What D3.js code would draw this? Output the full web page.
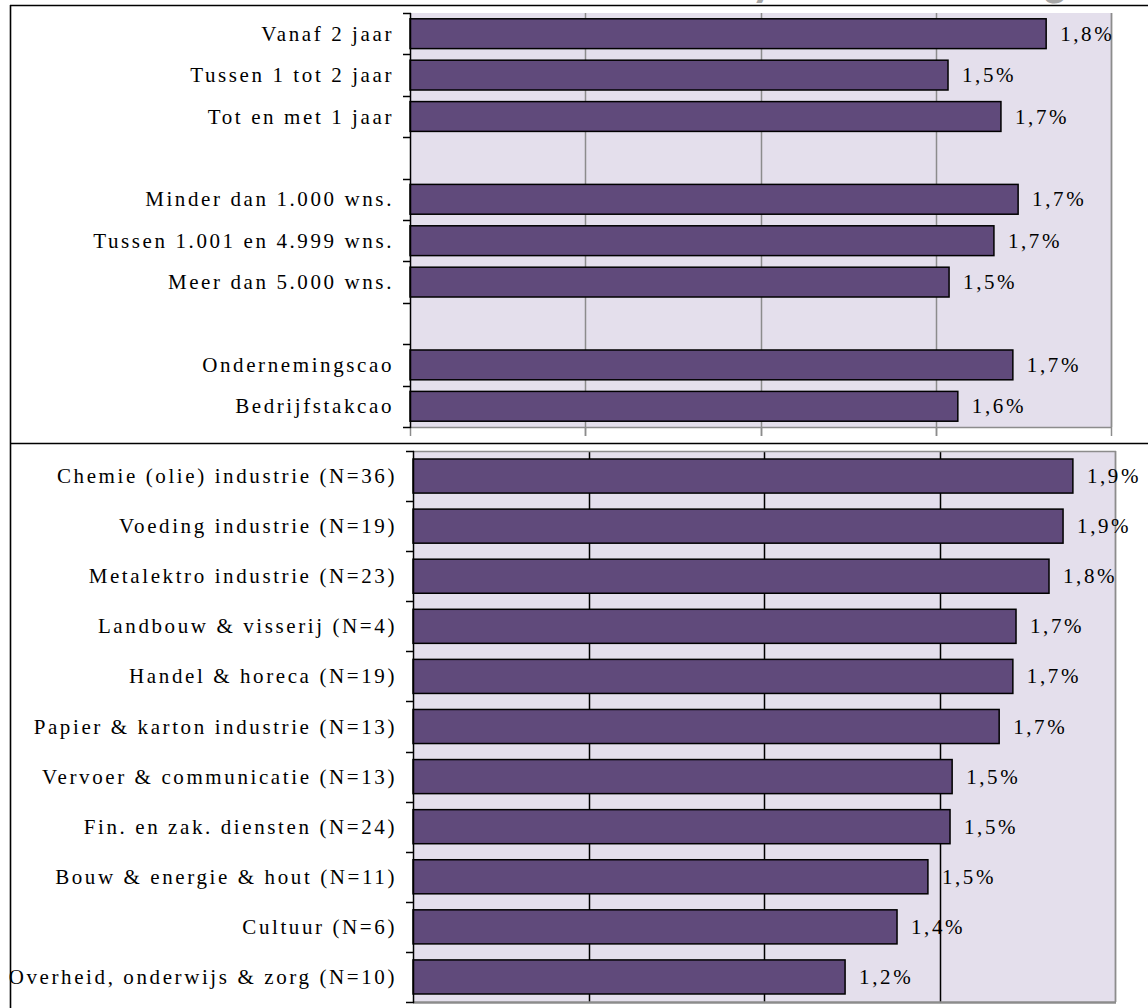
<!DOCTYPE html>
<html>
<head>
<meta charset="utf-8">
<script src="https://cdn.jsdelivr.net/npm/d3@7"></script>
<style>
  html, body { margin: 0; padding: 0; background: #fff; }
  svg { display: block; }
  text { font-family: "Liberation Serif", "Times New Roman", serif; }
</style>
</head>
<body>
<svg id="chart" width="1148" height="1008"></svg>
<script>
// ---------- data ----------
const topCategories = ["Vanaf 2 jaar", "Tussen 1 tot 2 jaar", "Tot en met 1 jaar", "",
  "Minder dan 1.000 wns.", "Tussen 1.001 en 4.999 wns.", "Meer dan 5.000 wns.", " ",
  "Ondernemingscao", "Bedrijfstakcao"];
const topValues = [1.815, 1.535, 1.686, null, 1.735, 1.666, 1.538, null, 1.72, 1.563];
const topLabels = ["1,8%", "1,5%", "1,7%", "", "1,7%", "1,7%", "1,5%", "", "1,7%", "1,6%"];

const bottomCategories = ["Chemie (olie) industrie (N=36)", "Voeding industrie (N=19)",
  "Metalektro industrie (N=23)", "Landbouw & visserij (N=4)", "Handel & horeca (N=19)",
  "Papier & karton industrie (N=13)", "Vervoer & communicatie (N=13)",
  "Fin. en zak. diensten (N=24)", "Bouw & energie & hout (N=11)", "Cultuur (N=6)",
  "Overheid, onderwijs & zorg (N=10)"];
const bottomValues = [1.88, 1.852, 1.812, 1.718, 1.709, 1.67, 1.536, 1.53, 1.467, 1.379, 1.231];
const bottomLabels = ["1,9%", "1,9%", "1,8%", "1,7%", "1,7%", "1,7%", "1,5%", "1,5%", "1,5%", "1,4%", "1,2%"];

const xTicks = [0, 0.5, 1.0, 1.5, 2.0];

// ---------- drawing ----------
const svg = d3.select("#chart");
const BAR = "#604A7B", BG = "#E4DFEC", GRID = "#8C8C8C";
const FS = 21, LS = 2.6;

// cut-off title fragments (descenders of a large grey title above the frame)
const title = svg.append("text").attr("y", -4)
  .style("font-family", "Calibri, Carlito, 'Open Sans', sans-serif")
  .style("font-size", "46px").style("font-weight", "bold").attr("fill", "#A6A6A6");
title.append("tspan").attr("x", 752).text("y");
title.append("tspan").attr("x", 1044).text("g");

// outer frame
svg.append("line").attr("x1", 10).attr("x2", 1148).attr("y1", 5.5).attr("y2", 5.5)
  .attr("stroke", "#000").attr("stroke-width", 1.6);
svg.append("line").attr("x1", 10.5).attr("x2", 10.5).attr("y1", 5).attr("y2", 1008)
  .attr("stroke", "#000").attr("stroke-width", 1.6);
svg.append("line").attr("x1", 10).attr("x2", 1148).attr("y1", 443.5).attr("y2", 443.5)
  .attr("stroke", "#000").attr("stroke-width", 1.6);

function panel(cfg) {
  const g = svg.append("g");
  const x = d3.scaleLinear().domain([0, 2]).range([cfg.x0, cfg.x1]);
  const y = d3.scaleBand().domain(cfg.cats).range([cfg.y0, cfg.y1]).paddingInner(cfg.pad).paddingOuter(cfg.pad / 2);

  // plot background
  g.append("rect").attr("x", cfg.x0).attr("y", cfg.y0)
    .attr("width", cfg.x1 - cfg.x0).attr("height", cfg.y1 - cfg.y0).attr("fill", BG);

  // vertical gridlines
  g.selectAll(".grid").data(xTicks.slice(1, -1)).join("line")
    .attr("x1", d => Math.round(x(d)) + 0.5).attr("x2", d => Math.round(x(d)) + 0.5)
    .attr("y1", cfg.y0).attr("y2", cfg.y1 + cfg.tickDown)
    .attr("stroke", cfg.gridColor).attr("stroke-width", 1.5);

  // x-axis (ticks below)
  if (cfg.tickDown > 0) {
    g.selectAll(".xt").data(xTicks).join("line")
      .attr("x1", d => Math.round(x(d)) + 0.5).attr("x2", d => Math.round(x(d)) + 0.5)
      .attr("y1", cfg.y1).attr("y2", cfg.y1 + cfg.tickDown)
      .attr("stroke", GRID).attr("stroke-width", 1.5);
  }
  // frame of plot (grey)
  g.append("line").attr("x1", cfg.x1 + 0.5).attr("x2", cfg.x1 + 0.5).attr("y1", cfg.y0).attr("y2", cfg.y1)
    .attr("stroke", GRID).attr("stroke-width", 1.8);
  g.append("line").attr("x1", cfg.x0).attr("x2", cfg.x1 + 1).attr("y1", cfg.y1 + 0.5).attr("y2", cfg.y1 + 0.5)
    .attr("stroke", GRID).attr("stroke-width", cfg.bottomW);
  if (cfg.topBorder) {
    g.append("line").attr("x1", cfg.x0).attr("x2", cfg.x1 + 1).attr("y1", cfg.y0 + 0.5).attr("y2", cfg.y0 + 0.5)
      .attr("stroke", GRID).attr("stroke-width", 1.5);
  }

  // bars
  const data = cfg.cats.map((c, i) => ({ c, v: cfg.vals[i], l: cfg.labels[i] })).filter(d => d.v != null);
  g.selectAll(".bar").data(data).join("rect")
    .attr("x", x(0)).attr("y", d => y(d.c))
    .attr("width", d => x(d.v) - x(0)).attr("height", y.bandwidth())
    .attr("fill", BAR).attr("stroke", "#000").attr("stroke-width", 1.5);

  // value labels
  g.selectAll(".val").data(data).join("text")
    .attr("x", d => x(d.v) + 14).attr("y", d => y(d.c) + y.bandwidth() / 2 + 7)
    .style("font-size", FS + "px").style("letter-spacing", LS + "px").attr("fill", "#000")
    .text(d => d.l);

  // left axis
  g.append("line").attr("x1", cfg.x0 + 0.5).attr("x2", cfg.x0 + 0.5).attr("y1", cfg.y0).attr("y2", cfg.y1 + 1)
    .attr("stroke", "#000").attr("stroke-width", 1.5);
  const step = y.step();
  const bounds = d3.range(cfg.cats.length + 1).map(i => cfg.y0 + i * step);
  g.selectAll(".yt").data(bounds).join("line")
    .attr("x1", cfg.x0 - 7).attr("x2", cfg.x0 + 1)
    .attr("y1", d => Math.round(d) + 0.5).attr("y2", d => Math.round(d) + 0.5)
    .attr("stroke", "#000").attr("stroke-width", 1.5);

  // category labels
  g.selectAll(".cat").data(cfg.cats.filter(c => c.trim() !== "")).join("text")
    .attr("x", cfg.labelX).attr("y", d => y(d) + y.bandwidth() / 2 + 7)
    .attr("text-anchor", "end")
    .style("font-size", FS + "px").style("letter-spacing", LS + "px").attr("fill", "#000")
    .text(d => d);
}

panel({ cats: topCategories, vals: topValues, labels: topLabels,
  x0: 410, x1: 1111, y0: 13, y1: 427, pad: 0.28, gridColor: GRID, tickDown: 9,
  bottomW: 1.5, topBorder: false, labelX: 394 });

panel({ cats: bottomCategories, vals: bottomValues, labels: bottomLabels,
  x0: 413, x1: 1115, y0: 451, y1: 1002, pad: 0.32, gridColor: "#000", tickDown: 0,
  bottomW: 2.5, topBorder: true, labelX: 397 });
</script>
</body>
</html>
